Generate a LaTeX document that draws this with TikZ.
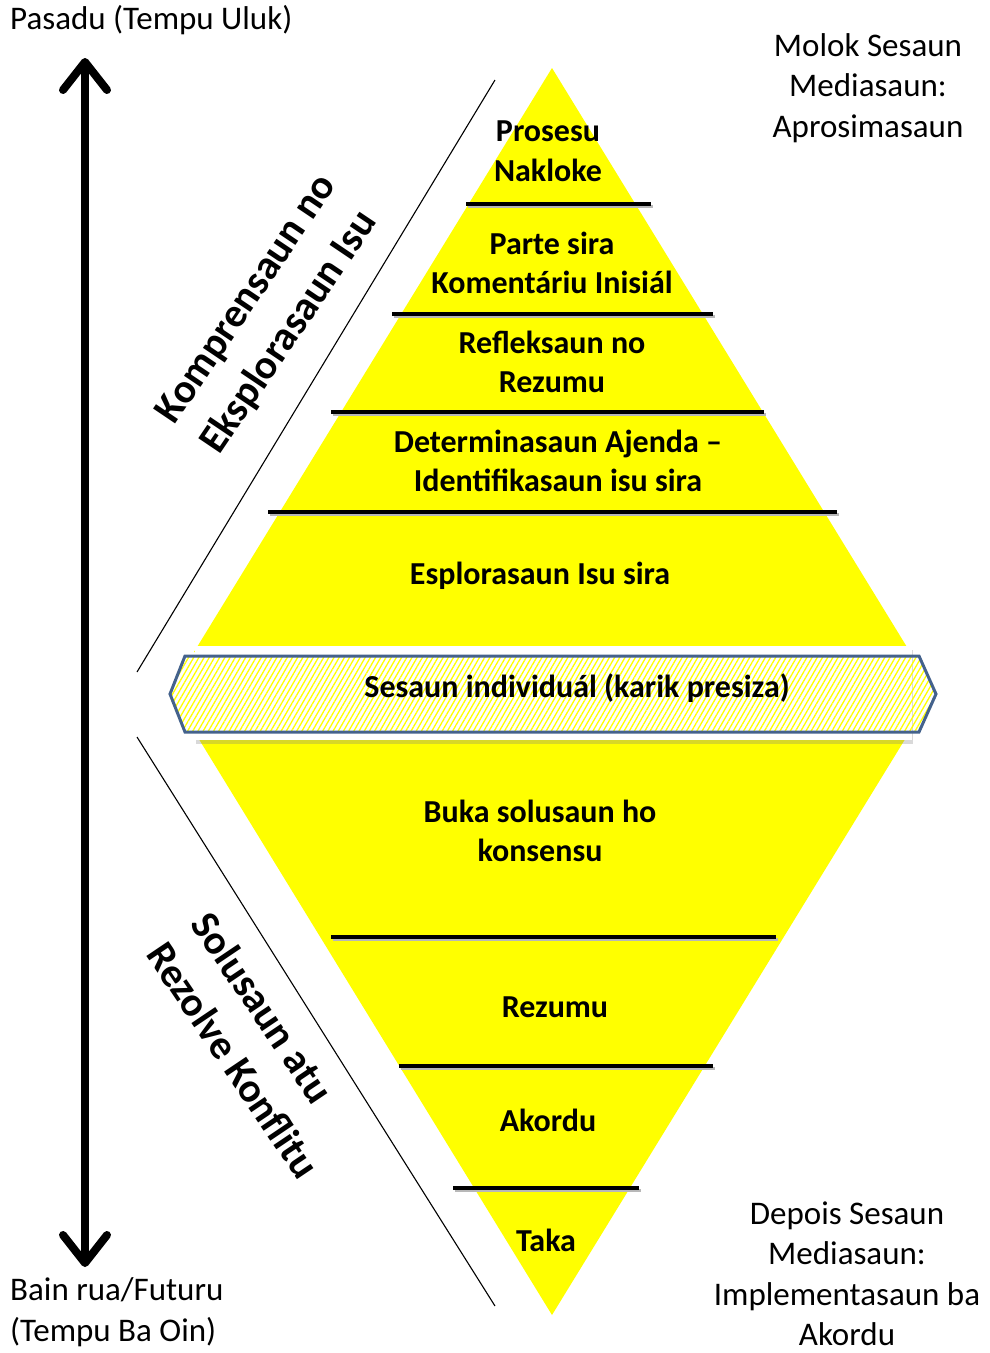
\documentclass[tikz,border=0pt]{standalone}
\usepackage{fontspec}
\setmainfont{Carlito}
\usetikzlibrary{arrows.meta,patterns.meta,shadows}
\definecolor{padyellow}{HTML}{FFFF00}
\definecolor{bandblue}{HTML}{44628C}
\definecolor{shadegrey}{HTML}{B8B8B8}

\begin{document}
\begin{tikzpicture}[x=1pt,y=-1pt,
    stage/.style={font=\bfseries\fontsize{32}{39.7}\selectfont, align=center, inner sep=0pt},
    note/.style={font=\fontsize{33}{40.5}\selectfont, align=center, inner sep=0pt},
    side/.style={font=\bfseries\fontsize{41}{54}\selectfont, align=left, inner sep=0pt},
    divider/.style={line width=3.2pt,
      preaction={draw=shadegrey, line width=3pt, transform canvas={shift={(1.5pt,-2.5pt)}}}}]
    \useasboundingbox (0,0) rectangle (990,1353);

    % time axis
    \coordinate (past) at (85,58);
    \coordinate (future) at (85,1267);
    \draw[line width=8pt, {Straight Barb[length=28pt,width=44pt,round]}-{Straight Barb[length=28pt,width=44pt,round]}]
      (past) -- (future);
    \node[note, anchor=west] (pasadu) at (10,20) {Pasadu (Tempu Uluk)};
    \node[note, anchor=west, align=left] (bainrua) at (10,1312) {Bain rua/Futuru\\(Tempu Ba Oin)};

    % the two triangles
    \fill[padyellow] (552,68) -- (910,652) -- (194,652) -- cycle;
    \fill[padyellow] (197,736) -- (907,736) -- (552,1315) -- cycle;

    % dividers
    \foreach \y/\xa/\xb in {204/466/651, 314/392/713, 412/331/764, 512/268/837,
                            937/331/776, 1066/399/713, 1188/453/639}
      \draw[divider] (\xa,\y) -- (\xb,\y);

    % individual session band
    \fill[white, drop shadow={opacity=0.3, shadow xshift=1pt, shadow yshift=-4pt}]
      (195,646) rectangle (912,740);
    \draw[bandblue, line width=3pt,
          pattern={Lines[angle=60,distance=4.5pt,line width=1.3pt]}, pattern color=padyellow]
      (170,694) -- (185,656) -- (919,656) -- (936,694) -- (919,732) -- (185,732) -- cycle;

    % stages
    \node[stage] (prosesu)    at (548,151)  {Prosesu\\Nakloke};
    \node[stage] (parte)      at (552,263)  {Parte sira\\Komentáriu Inisiál};
    \node[stage] (refleksaun) at (552,362)  {Refleksaun no\\Rezumu};
    \node[stage] (determ)     at (558,461)  {Determinasaun Ajenda –\\Identifikasaun isu sira};
    \node[stage] (esplor)     at (540,576)  {Esplorasaun Isu sira};
    \node[stage] (sesaun)     at (577,688)  {Sesaun individuál (karik presiza)};
    \node[stage] (buka)       at (540,831)  {Buka solusaun ho\\konsensu};
    \node[stage] (rezumu)     at (555,1007) {Rezumu};
    \node[stage] (akordu)     at (548,1120) {Akordu};
    \node[stage] (taka)       at (546,1240) {Taka};

    % phase brackets
    \coordinate (upA) at (495,80);
    \coordinate (upB) at (137,672);
    \coordinate (loA) at (137,737);
    \coordinate (loB) at (495,1306);
    \draw[line width=1.1pt] (upA) -- (upB);
    \draw[line width=1.1pt] (loA) -- (loB);
    \node[side, rotate=56]  (kompr) at (270,315)  {Komprensaun no\\Eksplorasaun Isu};
    \node[side, rotate=-56] (solus) at (256,1045) {Solusaun atu\\Rezolve Konflitu};

    % before and after
    \node[note] (molok)  at (868,88)   {Molok Sesaun\\Mediasaun:\\Aprosimasaun};
    \node[note] (depois) at (847,1274) {Depois Sesaun\\Mediasaun:\\Implementasaun ba\\Akordu};
\end{tikzpicture}
\end{document}
